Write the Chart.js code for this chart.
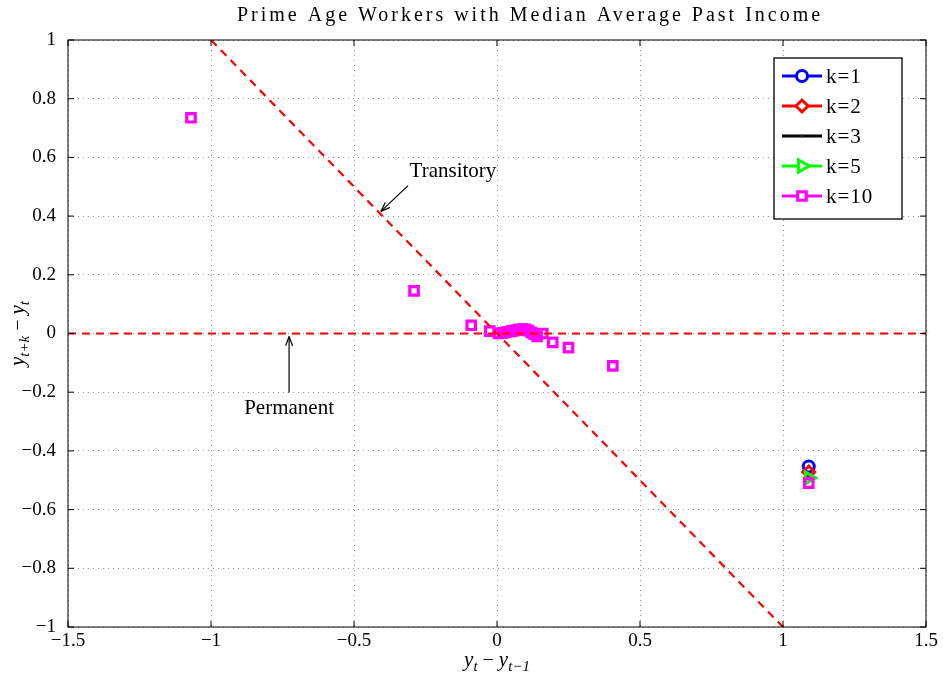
<!DOCTYPE html>
<html>
<head>
<meta charset="utf-8">
<script src="https://cdn.jsdelivr.net/npm/chart.js@4"></script>
<style>
  html, body { margin: 0; padding: 0; background: #fff; }
  #wrap { width: 943px; height: 679px; }
</style>
</head>
<body>
<div id="wrap"><canvas id="mychart"></canvas></div>
<script>
// values (near the origin only the k=10 squares are visible)
let k1X = [1.09];
let k1Y = [-0.453];
let k2X = [1.09];
let k2Y = [-0.472];
let k3X = [1.09];
let k3Y = [-0.482];
let k5X = [1.09];
let k5Y = [-0.492];
let k10X = [-1.07, -0.29, -0.09, -0.025, 0.005, 0.02, 0.03, 0.04, 0.05, 0.06, 0.07, 0.08, 0.09, 0.10, 0.11, 0.12, 0.13, 0.14, 0.16, 0.195, 0.25, 0.405, 1.09];
let k10Y = [0.735, 0.145, 0.028, 0.008, 0.0, 0.002, 0.004, 0.006, 0.008, 0.010, 0.012, 0.014, 0.015, 0.014, 0.010, 0.004, -0.002, -0.010, 0.0, -0.03, -0.048, -0.11, -0.51];
let permX = [-1.5, 1.5];
let permY = [0, 0];
let transX = [-1, 1];
let transY = [1, -1];
let xTicks = [-1.5, -1, -0.5, 0, 0.5, 1, 1.5];
let yTicks = [-1, -0.8, -0.6, -0.4, -0.2, 0, 0.2, 0.4, 0.6, 0.8, 1];
let legendNames = ['k=1', 'k=2', 'k=3', 'k=5', 'k=10'];

function pts(xs, ys) { return xs.map((x, i) => ({x: x, y: ys[i]})); }
function fmt(v) { return String(v).replace('-', '\u2212'); }

let serif = '"Liberation Serif", "DejaVu Serif", serif';

let series = [
  {label: legendNames[0], data: pts(k1X, k1Y), borderColor: '#0000ff', pointStyle: 'circle', pointRadius: 5.5, pointBorderWidth: 3, rot: 0},
  {label: legendNames[1], data: pts(k2X, k2Y), borderColor: '#ff0000', pointStyle: 'rectRot', pointRadius: 6, pointBorderWidth: 3, rot: 0},
  {label: legendNames[2], data: pts(k3X, k3Y), borderColor: '#000000', pointStyle: 'circle', pointRadius: 1, pointBorderWidth: 1, rot: 0},
  {label: legendNames[3], data: pts(k5X, k5Y), borderColor: '#00ff00', pointStyle: 'triangle', pointRadius: 7, pointBorderWidth: 3, rot: 90},
  {label: legendNames[4], data: pts(k10X, k10Y), borderColor: '#ff00ff', pointStyle: 'rect', pointRadius: 6, pointBorderWidth: 3.2, rot: 0}
];

let datasets = [
  {label: 'perm', data: pts(permX, permY), showLine: true, borderColor: '#ff0000', borderWidth: 2.2, borderDash: [8, 6], pointRadius: 0, order: 0},
  {label: 'trans', data: pts(transX, transY), showLine: true, borderColor: '#ff0000', borderWidth: 2.2, borderDash: [8, 6], pointRadius: 0, order: 0}
];
series.forEach((s, i) => {
  datasets.push({
    label: s.label, data: s.data, showLine: false,
    borderColor: s.borderColor, backgroundColor: 'rgba(0,0,0,0)',
    pointStyle: s.pointStyle, pointRadius: s.pointRadius, pointBorderWidth: s.pointBorderWidth,
    pointRotation: s.rot, pointBorderColor: s.borderColor, pointBackgroundColor: 'rgba(0,0,0,0)',
    order: 10 - i
  });
});

function arrow(ctx, x1, y1, x2, y2) {
  ctx.beginPath();
  ctx.moveTo(x1, y1); ctx.lineTo(x2, y2);
  ctx.stroke();
  let a = Math.atan2(y2 - y1, x2 - x1);
  let L = 10, w = 0.35;
  ctx.beginPath();
  ctx.moveTo(x2, y2);
  ctx.lineTo(x2 - L * Math.cos(a - w), y2 - L * Math.sin(a - w));
  ctx.moveTo(x2, y2);
  ctx.lineTo(x2 - L * Math.cos(a + w), y2 - L * Math.sin(a + w));
  ctx.stroke();
}

// draws math label; part kinds: 0 italic big, 1 italic subscript, 3 upright big
function mathText(ctx, parts, x, y, align) {
  let fonts = ['italic 21px ' + serif, 'italic 15px ' + serif, '', '20px ' + serif];
  let widths = parts.map(p => { ctx.font = fonts[p[1]]; return ctx.measureText(p[0]).width; });
  let total = widths.reduce((a, b) => a + b, 0);
  let cx = align === 'center' ? x - total / 2 : x;
  parts.forEach((p, i) => {
    ctx.font = fonts[p[1]];
    ctx.fillText(p[0], cx, p[1] === 1 ? y + 5 : y);
    cx += widths[i];
  });
}

let extras = {
  id: 'extras',
  afterDraw(chart) {
    let ctx = chart.ctx, a = chart.chartArea, sx = chart.scales.x, sy = chart.scales.y;
    ctx.save();
    // box + inward ticks
    ctx.strokeStyle = '#000'; ctx.lineWidth = 1;
    ctx.strokeRect(a.left, a.top, a.right - a.left, a.bottom - a.top);
    ctx.beginPath();
    xTicks.forEach(t => {
      let px = sx.getPixelForValue(t);
      ctx.moveTo(px, a.bottom); ctx.lineTo(px, a.bottom - 6);
      ctx.moveTo(px, a.top); ctx.lineTo(px, a.top + 6);
    });
    yTicks.forEach(t => {
      let py = sy.getPixelForValue(t);
      ctx.moveTo(a.left, py); ctx.lineTo(a.left + 6, py);
      ctx.moveTo(a.right, py); ctx.lineTo(a.right - 6, py);
    });
    ctx.stroke();

    // title
    ctx.fillStyle = '#000';
    ctx.font = '20px ' + serif;
    ctx.textBaseline = 'middle';
    let title = 'Prime Age Workers with Median Average Past Income';
    let w = ctx.measureText(title).width;
    ctx.letterSpacing = Math.max(0, (583 - w) / (title.length - 1)).toFixed(2) + 'px';
    ctx.textAlign = 'left';
    ctx.fillText(title, 237, 16);
    ctx.letterSpacing = '0px';

    // axis labels
    ctx.textBaseline = 'alphabetic';
    mathText(ctx, [['y', 0], ['t', 1], [' \u2212 ', 3], ['y', 0], ['t\u22121', 1]], (a.left + a.right) / 2, 666, 'center');
    ctx.save();
    ctx.translate(24, (a.top + a.bottom) / 2);
    ctx.rotate(-Math.PI / 2);
    mathText(ctx, [['y', 0], ['t+k', 1], [' \u2212 ', 3], ['y', 0], ['t', 1]], 0, 0, 'center');
    ctx.restore();

    // annotations
    ctx.font = '21px ' + serif;
    ctx.textAlign = 'center';
    ctx.textBaseline = 'middle';
    ctx.fillText('Transitory', sx.getPixelForValue(-0.154), sy.getPixelForValue(0.552));
    ctx.fillText('Permanent', sx.getPixelForValue(-0.727), sy.getPixelForValue(-0.256));
    ctx.lineWidth = 1.2;
    arrow(ctx, sx.getPixelForValue(-0.311), sy.getPixelForValue(0.504), sx.getPixelForValue(-0.406), sy.getPixelForValue(0.416));
    arrow(ctx, sx.getPixelForValue(-0.727), sy.getPixelForValue(-0.201), sx.getPixelForValue(-0.727), sy.getPixelForValue(-0.01));

    // legend
    let bx = 774, by = 58, bw = 128, bh = 161;
    ctx.fillStyle = '#fff';
    ctx.fillRect(bx, by, bw, bh);
    ctx.strokeStyle = '#000'; ctx.lineWidth = 1.3;
    ctx.strokeRect(bx, by, bw, bh);
    series.forEach((s, i) => {
      let yy = by + 18 + i * 30;
      ctx.strokeStyle = s.borderColor; ctx.lineWidth = 3;
      ctx.beginPath(); ctx.moveTo(bx + 8, yy); ctx.lineTo(bx + 48, yy); ctx.stroke();
      ctx.fillStyle = '#fff';
      ctx.lineWidth = s.pointBorderWidth;
      Chart.helpers.drawPoint(ctx, {pointStyle: s.pointStyle, radius: s.pointRadius, rotation: s.rot, borderWidth: s.pointBorderWidth}, bx + 28, yy);
      ctx.fillStyle = '#000';
      ctx.font = '21px ' + serif;
      ctx.textAlign = 'left';
      ctx.letterSpacing = '1px';
      ctx.fillText(s.label, bx + 52, yy + 1);
      ctx.letterSpacing = '0px';
    });
    ctx.restore();
  }
};

let mychart = document.getElementById('mychart').getContext('2d');
let obj = new Chart(mychart, {
  type: 'scatter',
  data: {datasets: datasets},
  options: {
    responsive: true,
    maintainAspectRatio: false,
    animation: false,
    layout: {padding: {top: 40, right: 17, left: 0, bottom: 0}},
    plugins: {legend: {display: false}, tooltip: {enabled: false}},
    scales: {
      x: {
        type: 'linear', min: -1.5, max: 1.5,
        afterBuildTicks: s => { s.ticks = xTicks.map(v => ({value: v})); },
        afterFit: s => { s.height = 52; },
        ticks: {color: '#000', font: {family: serif, size: 19}, padding: 3, callback: v => fmt(v)},
        grid: {color: '#999', drawTicks: false, lineWidth: 1},
        border: {display: false, dash: [1, 4]}
      },
      y: {
        type: 'linear', min: -1, max: 1,
        afterBuildTicks: s => { s.ticks = yTicks.map(v => ({value: v})); },
        afterFit: s => { s.width = 68; },
        ticks: {color: '#000', font: {family: serif, size: 19}, padding: 12, callback: v => fmt(Math.round(v * 10) / 10)},
        grid: {color: '#999', drawTicks: false, lineWidth: 1},
        border: {display: false, dash: [1, 4]}
      }
    }
  },
  plugins: [extras]
});
</script>
</body>
</html>
